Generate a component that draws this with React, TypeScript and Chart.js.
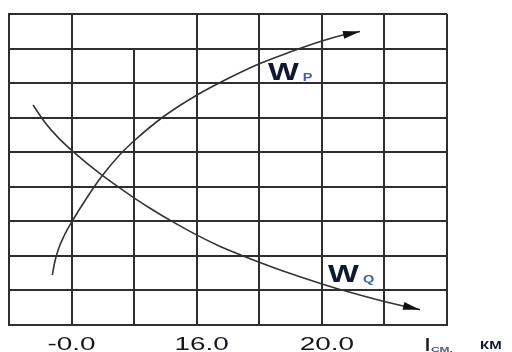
import React, { useEffect, useRef } from "react";
import { Chart, registerables } from "chart.js";

Chart.register(...registerables);

// Grid units: x 0..7 columns, y 0..9 rows
const WP_X = [0.692, 0.735, 0.799, 0.879, 1.007, 1.247, 1.486, 1.774, 2.014, 2.461, 3.005, 3.532, 4.011, 4.491, 5.002, 5.338, 5.61];
const WP_Y = [1.447, 1.852, 2.243, 2.576, 2.995, 3.69, 4.312, 4.934, 5.354, 6.019, 6.656, 7.162, 7.568, 7.9, 8.219, 8.392, 8.494];

const WQ_X = [0.384, 0.575, 0.783, 1.007, 1.247, 1.486, 1.774, 1.998, 2.254, 2.605, 2.989, 3.324, 4.011, 4.379, 5.002, 5.45, 6.009, 6.569];
const WQ_Y = [6.366, 5.863, 5.429, 5.044, 4.677, 4.338, 3.962, 3.681, 3.38, 2.998, 2.616, 2.318, 1.809, 1.563, 1.189, 0.946, 0.674, 0.443];

const TICK_VALUES = [1, 3, 5];
const TICK_LABELS = ["-0.0", "16.0", "20.0"];

const SERIES_MAIN = ["W", "W"];
const SERIES_SUB = ["P", "Q"];
const SERIES_LABEL_AT = [
  [4.14, 7.09],
  [5.1, 1.23],
];

const AXIS_MAIN = "l";
const AXIS_SUB = "СМ,";
const AXIS_UNIT = "КМ";

const FONT = "'Liberation Sans', Arial, sans-serif";
const INK = "#15151f";
const GRID = "#2e2e2e";

function stretched(
  ctx: CanvasRenderingContext2D,
  text: string,
  x: number,
  y: number,
  font: string,
  color: string,
  sx: number,
  align: "left" | "center" = "left"
) {
  ctx.save();
  ctx.font = font;
  ctx.fillStyle = color;
  ctx.textBaseline = "alphabetic";
  ctx.textAlign = "left";
  const w = ctx.measureText(text).width * sx;
  const left = align === "center" ? x - w / 2 : x;
  ctx.translate(left, y);
  ctx.scale(sx, 1);
  ctx.fillText(text, 0, 0);
  ctx.restore();
  return left + w;
}

const overlay = {
  id: "overlay",
  beforeDatasetsDraw(chart: any) {
    const { ctx, scales } = chart;
    const x = scales.x;
    const y = scales.y;
    // the top row has no divider at column 2
    const gx = Math.round(x.getPixelForValue(2));
    const y1 = Math.round(y.getPixelForValue(9)) + 1;
    const y2 = Math.round(y.getPixelForValue(8)) - 1;
    ctx.save();
    ctx.fillStyle = "#ffffff";
    ctx.fillRect(gx - 2, y1, 4, y2 - y1);
    ctx.restore();
  },
  afterDatasetsDraw(chart: any) {
    const { ctx } = chart;
    chart.data.datasets.forEach((_: any, i: number) => {
      const pts = chart.getDatasetMeta(i).data;
      const a = pts[pts.length - 2];
      const b = pts[pts.length - 1];
      const ang = Math.atan2(b.y - a.y, b.x - a.x);
      ctx.save();
      ctx.translate(b.x, b.y);
      ctx.rotate(ang);
      ctx.beginPath();
      ctx.moveTo(0, 0);
      ctx.lineTo(-17, -4);
      ctx.lineTo(-17, 4);
      ctx.closePath();
      ctx.fillStyle = "#111";
      ctx.fill();
      ctx.restore();
    });
  },
  afterDraw(chart: any) {
    const { ctx, scales, chartArea } = chart;
    const x = scales.x;
    const y = scales.y;
    // tick labels
    TICK_VALUES.forEach((v, i) => {
      const off = TICK_LABELS[i].startsWith("-") ? 0 : 5;
      stretched(ctx, TICK_LABELS[i], x.getPixelForValue(v) + off, 350, `18px ${FONT}`, INK, 1.55, "center");
    });
    // series labels
    SERIES_MAIN.forEach((m, i) => {
      const [u, v] = SERIES_LABEL_AT[i];
      const px = x.getPixelForValue(u);
      const py = y.getPixelForValue(v);
      const end = stretched(ctx, m, px, py, `bold 23px ${FONT}`, "#101830", 1.42);
      stretched(ctx, SERIES_SUB[i], end + 4, py + 1, `bold 10px ${FONT}`, "#3a62a0", 1.45);
    });
    // axis title
    const ax = chartArea.right - 22;
    const e1 = stretched(ctx, AXIS_MAIN, ax, 351, `bold 18px ${FONT}`, INK, 1.0);
    stretched(ctx, AXIS_SUB, e1 + 1, 351.5, `bold 8px ${FONT}`, "#4a5a78", 1.5);
    stretched(ctx, AXIS_UNIT, chartArea.right + 33, 348.5, `bold 10px ${FONT}`, "#101830", 1.5);
  },
};

export default function App() {
  const ref = useRef<HTMLCanvasElement | null>(null);

  useEffect(() => {
    if (!ref.current) return;
    const mk = (xs: number[], ys: number[]) => xs.map((v, i) => ({ x: v, y: ys[i] }));
    const chart = new Chart(ref.current, {
      type: "scatter",
      data: {
        datasets: [
          {
            label: "Wp",
            data: mk(WP_X, WP_Y),
            showLine: true,
            borderColor: "#333",
            borderWidth: 1.6,
            pointRadius: 0,
            cubicInterpolationMode: "monotone",
          },
          {
            label: "Wq",
            data: mk(WQ_X, WQ_Y),
            showLine: true,
            borderColor: "#333",
            borderWidth: 1.6,
            pointRadius: 0,
            cubicInterpolationMode: "monotone",
          },
        ],
      },
      options: {
        animation: false,
        responsive: false,
        devicePixelRatio: 1,
        layout: { padding: { left: 9, top: 14, right: 65, bottom: 27 } },
        plugins: { legend: { display: false }, tooltip: { enabled: false } },
        scales: {
          x: {
            type: "linear",
            min: 0,
            max: 7,
            ticks: { display: false, stepSize: 1 },
            grid: { color: GRID, lineWidth: 2, drawTicks: false },
            border: { display: true, color: GRID, width: 2 },
          },
          y: {
            type: "linear",
            min: 0,
            max: 9,
            ticks: { display: false, stepSize: 1 },
            grid: { color: GRID, lineWidth: 2, drawTicks: false },
            border: { display: true, color: GRID, width: 2 },
          },
        },
      },
      plugins: [overlay],
    } as any);
    return () => chart.destroy();
  }, []);

  return (
    <div style={{ position: "absolute", left: 0, top: 0, width: 512, height: 352, background: "#fff" }}>
      <canvas ref={ref} width={512} height={352} style={{ display: "block" }} />
    </div>
  );
}
